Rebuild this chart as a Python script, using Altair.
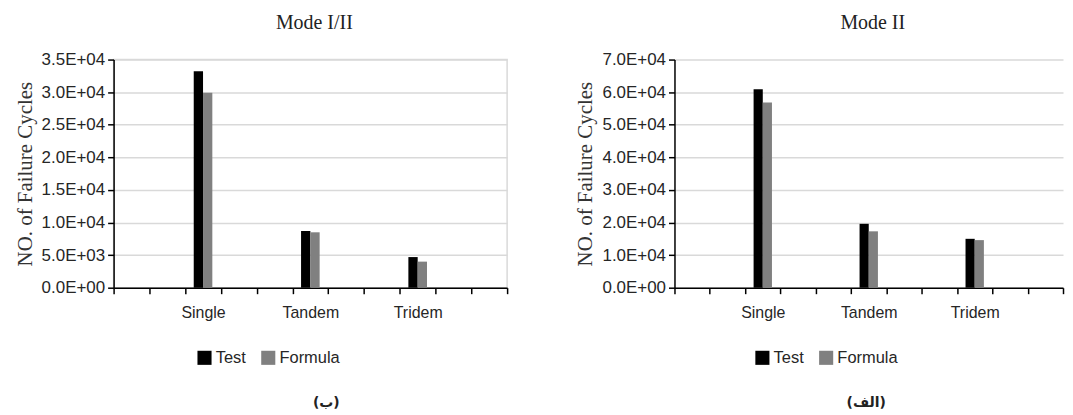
import altair as alt
import pandas as pd

# ---- data ----
categories = ["Single", "Tandem", "Tridem"]
series_names = ["Test", "Formula"]
series_colors = ["#000000", "#808080"]

mode12_test = [33200, 8700, 4700]
mode12_formula = [29900, 8500, 4000]
mode12_ticks = [0, 5000, 10000, 15000, 20000, 25000, 30000, 35000]

mode2_test = [60900, 19600, 15000]
mode2_formula = [56800, 17300, 14600]
mode2_ticks = [0, 10000, 20000, 30000, 40000, 50000, 60000, 70000]

# Excel-like category axis: 11 slots, categories in slots 2, 5, 8
n_slots = 11
slot_of = [2 + 3 * i for i in range(len(categories))]


def make_df(test, formula):
    rows = []
    for i, c in enumerate(categories):
        for s, vals in zip(series_names, (test, formula)):
            rows.append({"category": c, "slot": slot_of[i], "series": s, "value": vals[i]})
    return pd.DataFrame(rows)


label_expr = " : ".join(
    f"datum.value === {s + 0.5} ? '{c}'" for s, c in zip(slot_of, categories)
) + " : ''"

LABEL_COLOR = "#262626"


def panel(df, ticks, title, caption, width, stroke, legend_x, caption_x):
    x_axis = alt.Axis(
        values=[float(v) for v in range(n_slots + 1)] + [s + 0.5 for s in slot_of],
        labelExpr=label_expr,
        tickOpacity={"condition": {"test": "datum.value % 1 === 0", "value": 1}, "value": 0},
        grid=False,
        domainColor="black",
        domainWidth=1.5,
        tickColor="black",
        tickWidth=1.5,
        tickSize=6,
        labelFont="Liberation Sans",
        labelFontSize=16,
        labelColor=LABEL_COLOR,
        labelPadding=11,
        labelOverlap=False,
        labelFlush=False,
        title=caption,
        titleFont="DejaVu Sans",
        titleFontWeight="bold",
        titleFontSize=14,
        titleColor="#222222",
        titleX=caption_x,
        titleY=115,
        titleAlign="center",
        titleBaseline="middle",
    )
    y_axis = alt.Axis(
        values=ticks,
        labelExpr="replace(format(datum.value, '.1e'), 'e+', 'E+0')",
        gridColor="#d9d9d9",
        gridWidth=1.5,
        domainColor="black",
        domainWidth=1.5,
        tickColor="black",
        tickWidth=1.5,
        tickSize=6,
        labelFont="Liberation Sans",
        labelFontSize=17,
        labelColor=LABEL_COLOR,
        labelPadding=3,
        title="NO. of Failure Cycles",
        titleFont="Liberation Serif",
        titleFontSize=21,
        titleFontWeight="normal",
        titleColor="#333333",
        titlePadding=6,
    )
    legend = alt.Legend(
        orient="none",
        legendX=legend_x,
        legendY=291,
        direction="horizontal",
        title=None,
        symbolType="square",
        symbolSize=200,
        symbolStrokeWidth=0,
        labelFont="Liberation Sans",
        labelFontSize=16.5,
        labelColor=LABEL_COLOR,
        columnPadding=14,
        labelOffset=3,
    )
    return (
        alt.Chart(df)
        .transform_calculate(
            x0="datum.slot + (datum.series === 'Test' ? 0.24 : 0.5)",
            x1="datum.slot + (datum.series === 'Test' ? 0.5 : 0.76)",
        )
        .mark_bar()
        .encode(
            x=alt.X("x0:Q", scale=alt.Scale(domain=[0, n_slots], nice=False, zero=False), axis=x_axis),
            x2="x1:Q",
            y=alt.Y("value:Q", scale=alt.Scale(domain=[0, ticks[-1]], nice=False), axis=y_axis),
            y2=alt.datum(0),
            color=alt.Color(
                "series:N",
                scale=alt.Scale(domain=series_names, range=series_colors),
                legend=legend,
            ),
        )
        .properties(
            width=width,
            height=229,
            title=alt.TitleParams(
                title,
                font="Liberation Serif",
                fontSize=20,
                fontWeight="normal",
                color="#222222",
                offset=18,
                dx=4,
            ),
            view=alt.ViewBackground(stroke=stroke, strokeWidth=1.5),
        )
    )


left = panel(make_df(mode12_test, mode12_formula), mode12_ticks, "Mode I/II", "(ب)",
             395, "#d9d9d9", 83, 213)
right = panel(make_df(mode2_test, mode2_formula), mode2_ticks, "Mode II", "(الف)",
              390, "transparent", 80, 192)

chart = (
    alt.hconcat(left, right, spacing=65)
    .resolve_scale(color="independent")
    .resolve_legend(color="independent")
    .properties(padding={"left": 5, "top": 3, "right": 0, "bottom": 0}, background="white")
)

chart.save("out.html", embed_options={"renderer": "svg", "actions": False})
